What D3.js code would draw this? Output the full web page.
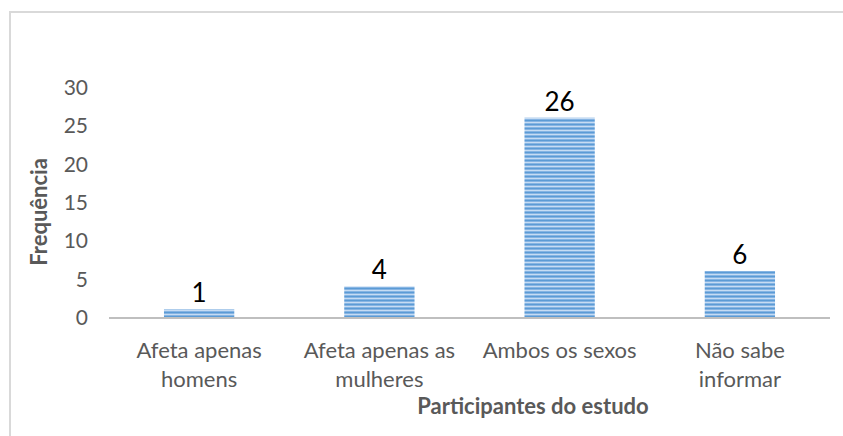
<!DOCTYPE html>
<html><head><meta charset="utf-8">
<script src="https://cdn.jsdelivr.net/npm/d3@7"></script>
<style>body{margin:0;background:#fff}svg{display:block}</style>
</head><body>
<svg id="c" width="843" height="436"></svg>
<script>
const categories = [["Afeta apenas","homens"],["Afeta apenas as","mulheres"],["Ambos os sexos"],["Não sabe","informar"]];
const values = [1, 4, 26, 6];
const yTicks = [0, 5, 10, 15, 20, 25, 30];
const xTitle = "Participantes do estudo";
const yTitle = "Frequência";

const svg = d3.select("#c");
const font = "Lato, 'Open Sans', sans-serif";
// frame
svg.append("path").attr("d","M10,436 V12 H843").attr("fill","none").attr("stroke","#d9d9d9").attr("stroke-width",2);

const defs = svg.append("defs");
const pat = defs.append("pattern").attr("id","stripes").attr("patternUnits","userSpaceOnUse").attr("width",8).attr("height",4);
[["#5b9bd5",0],["#86b4e3",1],["#c6dcf3",2],["#86b4e3",3]].forEach(([c,y])=>pat.append("rect").attr("x",0).attr("y",y).attr("width",8).attr("height",1).attr("fill",c));

const x = d3.scaleBand().domain(d3.range(values.length)).range([109, 830]).paddingInner(0.61).paddingOuter(0.305);
const y = d3.scaleLinear().domain([0, 30]).range([317, 87]);

// y axis labels
const ya = svg.append("g").attr("transform","translate(88,0)").call(d3.axisLeft(y).tickValues(yTicks).tickSize(0).tickPadding(0));
ya.select(".domain").remove();
ya.selectAll("text").attr("font-family",font).attr("font-size",21).attr("fill","#595959").attr("dy","0.35em");

svg.selectAll("rect.bar").data(values).join("rect").attr("class","bar")
  .attr("x",(d,i)=>x(i)).attr("width",x.bandwidth())
  .attr("y",d=>y(d)).attr("height",d=>y(0)-y(d)).attr("fill","url(#stripes)");

// x axis line
svg.append("line").attr("x1",109).attr("x2",830).attr("y1",y(0)+1).attr("y2",y(0)+1).attr("stroke","#bfbfbf").attr("stroke-width",2);

// data labels
svg.selectAll("text.lbl").data(values).join("text").attr("class","lbl")
  .attr("x",(d,i)=>x(i)+x.bandwidth()/2).attr("y",d=>y(d)-7)
  .attr("text-anchor","middle").attr("font-family",font).attr("font-size",26).attr("fill","#000").text(d=>d);

// category labels
const cg = svg.selectAll("text.cat").data(categories).join("text").attr("class","cat")
  .attr("x",(d,i)=>x(i)+x.bandwidth()/2).attr("y",358)
  .attr("text-anchor","middle").attr("font-family",font).attr("font-size",22).attr("fill","#595959");
cg.selectAll("tspan").data(d=>d).join("tspan").attr("x",function(){return this.parentNode.getAttribute("x");}).attr("dy",(d,i)=>i?29:0).text(d=>d);

svg.append("text").attr("x",533).attr("y",414).attr("text-anchor","middle").attr("font-family",font).attr("font-weight","bold").attr("font-size",22).attr("fill","#595959").text(xTitle);
svg.append("text").attr("transform","translate(47,212) rotate(-90)").attr("text-anchor","middle").attr("font-family",font).attr("font-weight","bold").attr("font-size",22).attr("fill","#595959").text(yTitle);
</script>
</body></html>
